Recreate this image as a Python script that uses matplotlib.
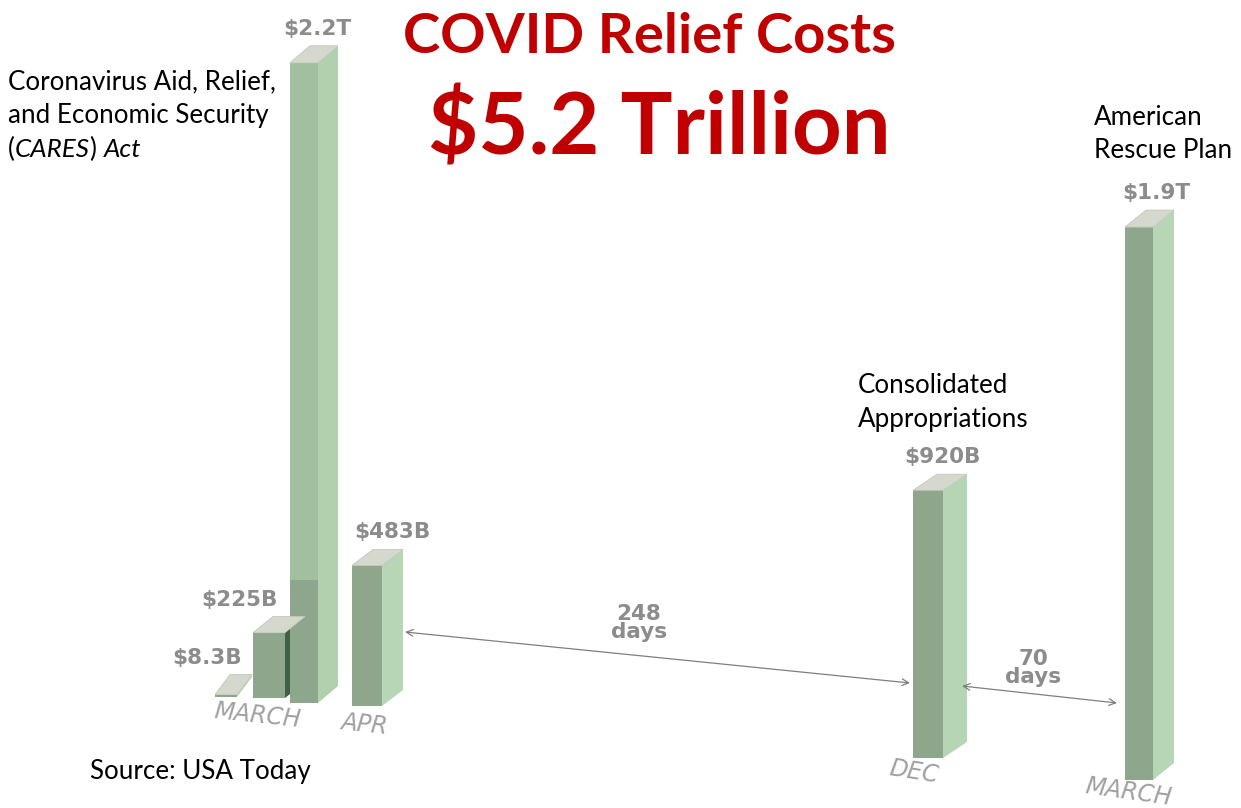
import matplotlib
matplotlib.use("Agg")
import matplotlib.pyplot as plt
from matplotlib.patches import Polygon, Rectangle

W, H = 1241, 808
PX_PER_B = 0.291  # pixels per billion dollars

# data
values_b = [8.3, 225, 2200, 483, 920, 1900]
value_labels = ["$8.3B", "$225B", "$2.2T", "$483B", "$920B", "$1.9T"]
month_labels = ["MARCH", "APR", "DEC", "MARCH"]
day_gaps = ["248\ndays", "70\ndays"]

# layout (pixels, top-left origin)
front_left = [215, 253, 290, 352, 913, 1125]
front_width = [22, 32, 28, 30, 30, 28]
bottom_px = [697, 698, 703, 706, 758, 780]
side_depth = [15, 20, 20, 21, 24, 21]
top_rise = [20, 16, 17, 16, 16, 17]
label_x = [207, 239, 317, 392, 942, 1156]
side_colors = ["#b6d3b4", "#3f5f46", "#b0d0ae", "#b7d6b6", "#b6d5b5", "#b7d6b6"]

FRONT = "#8ea78c"
CAP = "#d5d8cc"
GREY = "#8c8c8c"
RED = "#c00000"


def y(ypx):
    # pixel row -> data units (billions)
    return (H - ypx) / PX_PER_B


def dy(px):
    return px / PX_PER_B


fig = plt.figure(figsize=(W / 100, H / 100), dpi=100)
ax = fig.add_axes([0, 0, 1, 1])
ax.set_xlim(0, W)
ax.set_ylim(0, H / PX_PER_B)
ax.axis("off")

bases = [y(b) for b in bottom_px]
centers = [l + w / 2 for l, w in zip(front_left, front_width)]

# front faces through bar()
bars = ax.bar(centers, values_b, width=front_width, bottom=bases,
              color=FRONT, edgecolor="none", zorder=3)

for i, bar in enumerate(bars):
    x0 = bar.get_x()
    x1 = x0 + bar.get_width()
    b = bar.get_y()
    t = b + bar.get_height()
    d = side_depth[i]
    r = dy(top_rise[i])
    side = Polygon([(x1, b), (x1, t), (x1 + d, t + r), (x1 + d, b + r)],
                   closed=True, facecolor=side_colors[i], edgecolor="none", zorder=2)
    ax.add_patch(side)
    cap = Polygon([(x0, t), (x1, t), (x1 + d, t + r), (x0 + d, t + r)],
                  closed=True, facecolor=CAP, edgecolor="#c4c8bb", lw=0.6, zorder=4)
    ax.add_patch(cap)
    ax.text(label_x[i], t + r + dy(7), value_labels[i],
            ha="center", va="bottom", fontsize=15.5, fontweight="bold",
            color=GREY, family="DejaVu Sans", zorder=5)

# lighter upper part of the tall bar
tall = bars[2]
ax.add_patch(Rectangle((tall.get_x(), y(580)), tall.get_width(),
                       tall.get_y() + tall.get_height() - y(580),
                       facecolor="#a2bf9f", edgecolor="none", zorder=3))

# month labels
month_pos = [(257, 716, -6), (364, 724, -6), (914, 772, -9), (1128, 792, -8)]
for lab, (mx, my, rot) in zip(month_labels, month_pos):
    ax.text(mx, y(my), lab, ha="center", va="center", fontsize=17,
            style="italic", color="#a0a0a0", rotation=rot, family="DejaVu Sans")

# day-gap arrows
arrow_kw = dict(arrowstyle="<->", color="#7f7f7f", lw=0.9,
                shrinkA=0, shrinkB=0, mutation_scale=12)
ax.annotate("", xy=(910, y(683)), xytext=(405, y(632)), arrowprops=arrow_kw, zorder=6)
ax.annotate("", xy=(1117, y(703)), xytext=(962, y(686)), arrowprops=arrow_kw, zorder=6)
ax.text(639, y(623), day_gaps[0], ha="center", va="center", fontsize=15.5,
        fontweight="bold", color=GREY, linespacing=0.9, family="DejaVu Sans")
ax.text(1033, y(668), day_gaps[1], ha="center", va="center", fontsize=15.5,
        fontweight="bold", color=GREY, linespacing=0.9, family="DejaVu Sans")

# titles
ax.text(649, y(37), "COVID Relief Costs", ha="center", va="center",
        fontsize=40.5, fontweight="bold", color=RED, family="Lato")
ax.text(659, y(128), "$5.2 Trillion", ha="center", va="center",
        fontsize=62.5, fontweight="bold", color=RED, family="Lato")

# bill annotations
TXT = dict(fontsize=18.7, color="black", family="Lato")
ax.text(8, y(82), "Coronavirus Aid, Relief,", va="center", **TXT)
ax.text(8, y(115), "and Economic Security", va="center", **TXT)
ax.text(858, y(385), "Consolidated", va="center", **TXT)
ax.text(858, y(419), "Appropriations", va="center", **TXT)
ax.text(1094, y(117), "American", va="center", **TXT)
ax.text(1094, y(150), "Rescue Plan", va="center", **TXT)
ax.text(90, y(771), "Source: USA Today", va="center", **TXT)

# mixed roman / italic line
fig.canvas.draw()
renderer = fig.canvas.get_renderer()
xpos = 8
for piece, st in [("(", "normal"), ("CARES", "italic"), (") ", "normal"), ("Act", "italic")]:
    t = ax.text(xpos, y(149), piece, va="center", style=st, **TXT)
    ext = t.get_window_extent(renderer=renderer)
    xpos = ax.transData.inverted().transform((ext.x1, 0))[0]

fig.savefig("out.png", dpi=100)
